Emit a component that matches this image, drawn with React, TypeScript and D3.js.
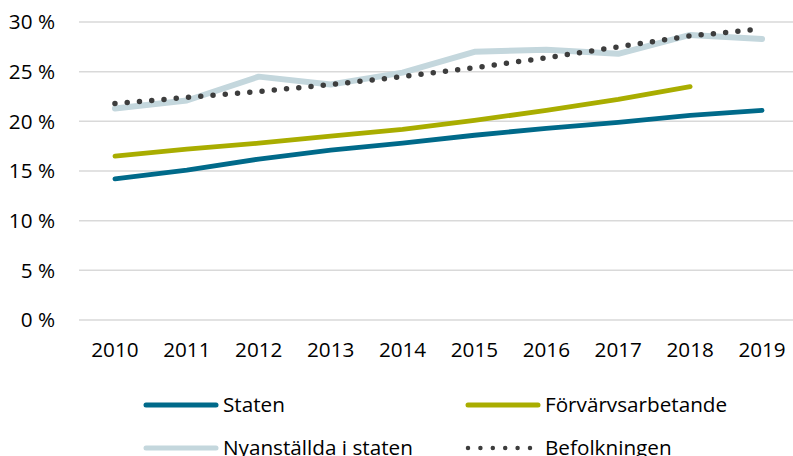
import React from 'react';
import * as d3 from 'd3';

const years = ['2010', '2011', '2012', '2013', '2014', '2015', '2016', '2017', '2018', '2019'];
const yTicks = [0, 5, 10, 15, 20, 25, 30];

const staten = [14.2, 15.1, 16.2, 17.1, 17.8, 18.6, 19.3, 19.9, 20.6, 21.1];
const forvarvsarbetande = [16.5, 17.2, 17.8, 18.5, 19.2, 20.1, 21.1, 22.2, 23.5];
const nyanstallda = [21.3, 22.1, 24.5, 23.7, 24.9, 27.0, 27.2, 26.8, 28.7, 28.3];
const befolkningen = [21.8, 22.4, 23.0, 23.7, 24.5, 25.4, 26.4, 27.5, 28.6, 29.3];

const W = 793;
const H = 456;
const font = '"Open Sans", sans-serif';
const fs = 20.7;

export default function App() {
  const x = d3.scaleBand().domain(years).range([79, 798]);
  const y = d3.scaleLinear().domain([0, 30]).range([320, 22]);
  const cx = (i: number) => (x(years[i]) as number) + x.bandwidth() / 2;

  const line = d3
    .line<number>()
    .x((d, i) => cx(i))
    .y((d) => y(d));

  // drawn back to front, like the original
  const series = [
    { name: 'Nyanställda i staten', values: nyanstallda, color: '#c4d7dd', width: 6, dash: null },
    { name: 'Befolkningen', values: befolkningen, color: '#3d3d3d', width: 5.5, dash: '0 12.3' },
    { name: 'Förvärvsarbetande', values: forvarvsarbetande, color: '#a9ad00', width: 4.8, dash: null },
    { name: 'Staten', values: staten, color: '#006a8a', width: 4.8, dash: null },
  ];

  const legend = [
    { s: series[3], lx: 146, ly: 405 },
    { s: series[2], lx: 468, ly: 405 },
    { s: series[0], lx: 146, ly: 448 },
    { s: series[1], lx: 468, ly: 448 },
  ];

  return (
    <svg width={W} height={H} style={{ position: 'absolute', left: 0, top: 0, background: '#fff' }}>
      {yTicks.map((t) => (
        <g key={t}>
          <line x1={79} x2={W} y1={y(t)} y2={y(t)} stroke="#d9d9d9" strokeWidth={1.5} />
          <text x={55} y={y(t)} dy="0.36em" textAnchor="end" fontFamily={font} fontSize={fs} fill="#000">
            {t} %
          </text>
        </g>
      ))}
      {years.map((yr, i) => (
        <text key={yr} x={cx(i)} y={357} textAnchor="middle" fontFamily={font} fontSize={fs} fill="#000">
          {yr}
        </text>
      ))}
      {series.map((s) => (
        <path
          key={s.name}
          d={line(s.values) as string}
          fill="none"
          stroke={s.color}
          strokeWidth={s.width}
          strokeLinecap="round"
          strokeLinejoin="round"
          strokeDasharray={s.dash || undefined}
        />
      ))}
      {legend.map(({ s, lx, ly }) => (
        <g key={s.name}>
          <line
            x1={lx}
            x2={s.dash ? lx + 62 : lx + 70}
            y1={ly}
            y2={ly}
            stroke={s.color}
            strokeWidth={s.dash ? 4.5 : 5}
            strokeLinecap="round"
            strokeDasharray={s.dash ? '0 12.4' : undefined}
          />
          <text x={lx + 77} y={ly} dy="0.36em" fontFamily={font} fontSize={fs} fill="#000">
            {s.name}
          </text>
        </g>
      ))}
    </svg>
  );
}
